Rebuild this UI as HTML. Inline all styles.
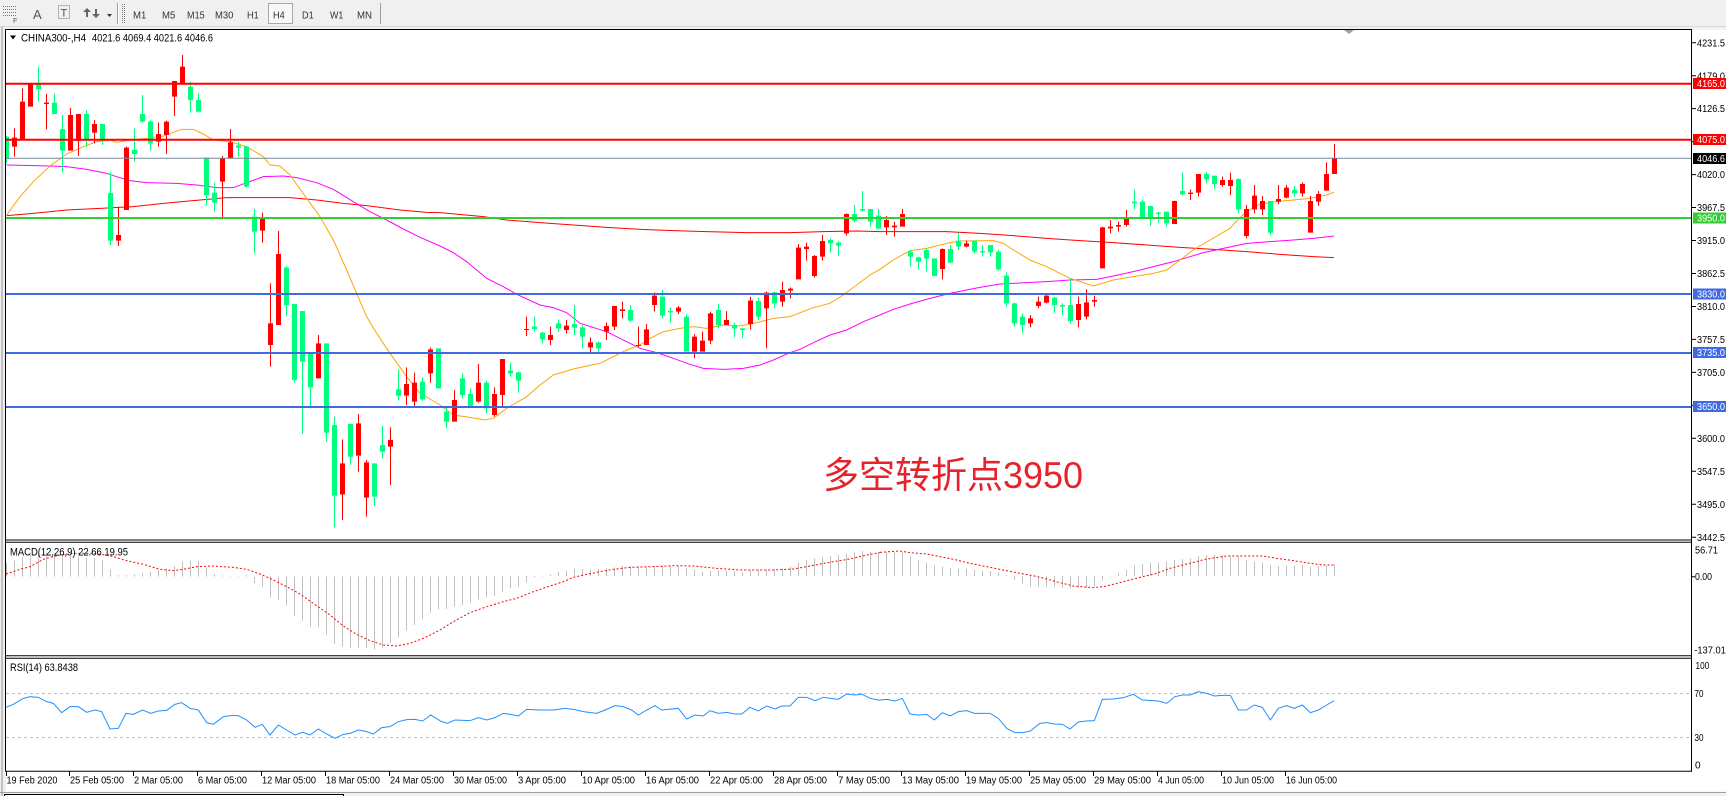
<!DOCTYPE html>
<html><head><meta charset="utf-8"><style>html,body{margin:0;padding:0;background:#fff}svg{display:block}</style></head>
<body>
<svg xmlns="http://www.w3.org/2000/svg" width="1726" height="796" viewBox="0 0 1726 796" font-family="'Liberation Sans', sans-serif">
<defs>
<clipPath id="cm"><rect x="6" y="30" width="1685.5" height="509.5"/></clipPath>
<clipPath id="cd"><rect x="6" y="542.5" width="1685.5" height="113"/></clipPath>
<clipPath id="cr"><rect x="6" y="658.5" width="1685.5" height="112"/></clipPath>
</defs>
<rect x="0" y="0" width="1726" height="796" fill="#f0f0f0"/>
<rect x="6" y="29.5" width="1720" height="762" fill="#fff"/>
<line x1="0" y1="26.5" x2="1726" y2="26.5" stroke="#d8d8d8"/>
<g fill="none" stroke="#777" stroke-dasharray="1,1">
<line x1="3" y1="6.5" x2="16" y2="6.5"/><line x1="3" y1="9.5" x2="16" y2="9.5"/><line x1="3" y1="12.5" x2="16" y2="12.5"/><line x1="3" y1="15.5" x2="16" y2="15.5"/>
<rect x="58.5" y="5.5" width="11" height="13"/>
<line x1="122.5" y1="4" x2="122.5" y2="23"/><line x1="124.5" y1="4" x2="124.5" y2="23"/>
</g>
<text x="13" y="23" font-size="7" fill="#555">F</text>
<text x="33" y="19" font-size="13" fill="#555">A</text>
<text x="60.5" y="16.5" font-size="11" fill="#555">T</text>
<path d="M87,8l4,4h-3v5h-2v-5h-3z M96,18l4,-4h-3v-5h-2v5h-3z" fill="#666"/>
<polygon points="107,14 112,14 109.5,17" fill="#333"/>
<line x1="117.5" y1="3" x2="117.5" y2="24" stroke="#a0a0a0"/><line x1="118.5" y1="3" x2="118.5" y2="24" stroke="#fff"/>
<rect x="268.5" y="3.5" width="24" height="20" fill="#f8f8f8" stroke="#a8a8a8"/>
<g font-size="10" fill="#333">
<text x="133" y="18.5" textLength="13.3" lengthAdjust="spacingAndGlyphs">M1</text>
<text x="162" y="18.5" textLength="13.3" lengthAdjust="spacingAndGlyphs">M5</text>
<text x="187" y="18.5" textLength="17.7" lengthAdjust="spacingAndGlyphs">M15</text>
<text x="215" y="18.5" textLength="18.3" lengthAdjust="spacingAndGlyphs">M30</text>
<text x="247" y="18.5" textLength="11.7" lengthAdjust="spacingAndGlyphs">H1</text>
<text x="273" y="18.5" textLength="11.7" lengthAdjust="spacingAndGlyphs">H4</text>
<text x="302" y="18.5" textLength="11.7" lengthAdjust="spacingAndGlyphs">D1</text>
<text x="330" y="18.5" textLength="13.3" lengthAdjust="spacingAndGlyphs">W1</text>
<text x="357" y="18.5" textLength="15" lengthAdjust="spacingAndGlyphs">MN</text>
</g>
<line x1="380.5" y1="3" x2="380.5" y2="24" stroke="#a0a0a0"/>

<!-- main panel -->
<g clip-path="url(#cm)">
<g fill="none" stroke-width="3">
<polyline transform="translate(0,30) scale(0.333333)" stroke="#ff0000" points="20,557 100,550 200,540 300,535 400,530 490,520 600,510 680,503 800,503 870,503 950,510 1030,520 1100,527 1200,540 1280,547 1320,548"/>
<polyline transform="translate(440,30) scale(0.333333)" stroke="#ff0000" points="0,548 130,560 200,570 300,578 400,585 500,592 600,598 700,602 800,605 920,608 1050,608 1150,605 1250,603 1320,605"/>
<polyline transform="translate(880,30) scale(0.333333)" stroke="#ff0000" points="0,605 200,605 300,610 400,617 500,625 600,632 700,638 800,645 900,652 1000,658 1100,665 1200,673 1300,680 1362,683"/>
<polyline transform="translate(0,30) scale(0.333333)" stroke="#ff00ff" points="20,405 150,408 200,410 260,418 320,430 350,440 390,452 440,458 530,460 590,465 650,473 700,473 740,458 790,440 850,438 890,443 950,458 1000,478 1060,515 1110,545 1160,570 1210,597 1260,622 1320,648"/>
<polyline transform="translate(440,30) scale(0.333333)" stroke="#ff00ff" points="0,648 40,668 80,695 140,745 190,770 230,793 300,825 340,833 380,848 420,880 500,905 560,935 600,955 650,968 700,985 750,1003 790,1015 850,1018 910,1015 960,1005 1000,990 1050,968 1080,958 1120,938 1170,915 1220,900 1270,875 1320,855"/>
<polyline transform="translate(880,30) scale(0.333333)" stroke="#ff00ff" points="0,855 40,838 90,822 150,805 210,790 250,782 300,772 360,762 440,758 500,755 570,750 650,748 700,738 760,725 820,710 880,695 920,683 970,668 1030,655 1100,640 1170,635 1240,630 1300,625 1362,618"/>
<polyline transform="translate(0,30) scale(0.333333)" stroke="#ffa500" points="20,555 60,500 100,455 150,408 200,372 250,350 290,335 330,330 350,337 390,330 440,325 490,318 545,298 580,298 610,312 640,330 690,335 740,350 790,380 810,405 840,408 870,435 920,505 960,560 1000,630 1040,720 1070,790 1100,860 1130,910 1170,970 1220,1040 1260,1090 1290,1107 1320,1125"/>
<polyline transform="translate(440,30) scale(0.333333)" stroke="#ffa500" points="0,1125 40,1155 90,1162 135,1170 160,1165 200,1135 260,1100 300,1065 340,1035 400,1017 440,1008 480,1000 520,980 560,960 600,945 630,925 670,905 720,895 760,890 800,895 850,885 900,888 950,878 1000,865 1050,860 1080,848 1120,833 1170,820 1210,795 1250,765 1290,735 1320,718"/>
<polyline transform="translate(880,30) scale(0.333333)" stroke="#ffa500" points="0,718 40,690 90,662 140,655 200,640 240,633 340,632 370,640 400,660 450,690 500,710 570,745 640,768 700,750 760,740 820,730 860,720 900,690 940,660 990,630 1050,595 1075,568 1100,545 1140,522 1190,515 1240,510 1290,505 1340,495 1362,487"/>
</g>
<g transform="translate(0,30) scale(1,0.333333)">
<path fill="#00ff7f" d="M4,320h5v65h-5zM6,318h1v82h-1zM36,163h5v14h-5zM38,110h1v105h-1zM52,218h5v34h-5zM54,190h1v62h-1zM60,297h5v65h-5zM62,255h1v173h-1zM84,252h5v76h-5zM86,240h1v110h-1zM100,282h5v48h-5zM102,282h1v63h-1zM108,489h5v143h-5zM110,425h1v220h-1zM132,360h5v12h-5zM134,295h1v100h-1zM140,252h5v23h-5zM142,195h1v83h-1zM148,275h5v65h-5zM150,270h1v92h-1zM188,170h5v40h-5zM190,155h1v93h-1zM196,210h5v35h-5zM198,190h1v58h-1zM204,383h5v112h-5zM206,383h1v142h-1zM212,488h5v30h-5zM214,458h1v87h-1zM236,346h5v7h-5zM238,335h1v45h-1zM244,350h5v120h-5zM246,348h1v124h-1zM252,560h5v45h-5zM254,537h1v133h-1zM284,713h5v112h-5zM286,708h1v150h-1zM292,822h5v228h-5zM294,822h1v236h-1zM300,843h5v152h-5zM302,843h1v369h-1zM308,968h5v104h-5zM310,968h1v160h-1zM324,940h5v268h-5zM326,940h1v295h-1zM332,1185h5v212h-5zM334,1160h1v332h-1zM348,1182h5v98h-5zM350,1180h1v125h-1zM372,1300h5v100h-5zM374,1300h1v128h-1zM380,1245h5v20h-5zM382,1188h1v97h-1zM396,1078h5v19h-5zM398,1018h1v94h-1zM420,1055h5v53h-5zM422,1042h1v71h-1zM436,955h5v120h-5zM438,955h1v120h-1zM444,1145h5v30h-5zM446,1130h1v65h-1zM460,1045h5v50h-5zM462,1030h1v75h-1zM468,1092h5v36h-5zM470,1075h1v55h-1zM484,1058h5v77h-5zM486,1052h1v98h-1zM508,1022h5v8h-5zM510,998h1v42h-1zM516,1027h5v25h-5zM518,1025h1v63h-1zM532,890h5v7h-5zM534,860h1v45h-1zM540,908h5v20h-5zM542,905h1v35h-1zM556,880h5v15h-5zM558,868h1v37h-1zM572,882h5v11h-5zM574,825h1v90h-1zM580,892h5v28h-5zM582,885h1v70h-1zM596,937h5v18h-5zM598,935h1v30h-1zM628,840h5v32h-5zM630,825h1v50h-1zM660,800h5v57h-5zM662,780h1v85h-1zM668,843h5v4h-5zM670,833h1v45h-1zM684,860h5v105h-5zM686,852h1v113h-1zM716,840h5v45h-5zM718,822h1v73h-1zM732,885h5v10h-5zM734,878h1v44h-1zM740,895h5v5h-5zM742,893h1v32h-1zM756,813h5v47h-5zM758,803h1v67h-1zM772,787h5v33h-5zM774,785h1v50h-1zM828,630h5v10h-5zM830,625h1v43h-1zM836,638h5v9h-5zM838,632h1v46h-1zM852,552h5v20h-5zM854,525h1v52h-1zM860,537h5v5h-5zM862,483h1v62h-1zM868,537h5v38h-5zM870,537h1v53h-1zM876,557h5v39h-5zM878,537h1v61h-1zM908,665h5v15h-5zM910,660h1v50h-1zM916,682h5v13h-5zM918,680h1v38h-1zM924,660h5v26h-5zM926,655h1v70h-1zM932,685h5v53h-5zM934,685h1v53h-1zM948,657h5v41h-5zM950,645h1v55h-1zM956,632h5v18h-5zM958,608h1v52h-1zM972,632h5v33h-5zM974,632h1v38h-1zM980,663h5v4h-5zM982,645h1v35h-1zM988,645h5v22h-5zM990,645h1v35h-1zM996,665h5v53h-5zM998,660h1v62h-1zM1004,737h5v83h-5zM1006,727h1v103h-1zM1012,820h5v60h-5zM1014,818h1v72h-1zM1020,860h5v25h-5zM1022,850h1v60h-1zM1052,803h5v22h-5zM1054,800h1v48h-1zM1060,825h5v5h-5zM1062,820h1v35h-1zM1068,825h5v48h-5zM1070,745h1v135h-1zM1132,515h5v5h-5zM1134,478h1v60h-1zM1140,515h5v50h-5zM1142,508h1v60h-1zM1148,528h5v34h-5zM1150,527h1v61h-1zM1156,548h5v4h-5zM1158,545h1v33h-1zM1164,545h5v35h-5zM1166,545h1v45h-1zM1180,483h5v10h-5zM1182,428h1v69h-1zM1204,432h5v16h-5zM1206,425h1v35h-1zM1212,437h5v25h-5zM1214,437h1v41h-1zM1236,447h5v91h-5zM1238,445h1v103h-1zM1268,513h5v95h-5zM1270,513h1v102h-1zM1292,480h5v10h-5zM1294,468h1v32h-1z"/>
<path fill="#ff0000" d="M12,323h5v27h-5zM14,295h1v85h-1zM20,215h5v114h-5zM22,175h1v155h-1zM28,160h5v70h-5zM30,160h1v70h-1zM44,218h5v4h-5zM46,192h1v106h-1zM68,255h5v107h-5zM70,234h1v128h-1zM76,252h5v81h-5zM78,252h1v126h-1zM92,282h5v26h-5zM94,270h1v70h-1zM116,615h5v17h-5zM118,530h1v118h-1zM124,353h5v187h-5zM126,350h1v190h-1zM156,312h5v23h-5zM158,278h1v72h-1zM164,275h5v40h-5zM166,272h1v100h-1zM172,153h5v47h-5zM174,153h1v105h-1zM180,110h5v50h-5zM182,75h1v85h-1zM220,385h5v70h-5zM222,378h1v190h-1zM228,337h5v48h-5zM230,297h1v88h-1zM260,565h5v37h-5zM262,548h1v90h-1zM268,880h5v65h-5zM270,760h1v250h-1zM276,672h5v213h-5zM278,603h1v282h-1zM316,940h5v105h-5zM318,915h1v130h-1zM340,1300h5v93h-5zM342,1228h1v242h-1zM356,1180h5v97h-5zM358,1152h1v173h-1zM364,1297h5v106h-5zM366,1290h1v170h-1zM388,1230h5v20h-5zM390,1192h1v173h-1zM404,1062h5v35h-5zM406,1012h1v113h-1zM412,1058h5v57h-5zM414,1028h1v100h-1zM428,958h5v72h-5zM430,953h1v105h-1zM452,1110h5v65h-5zM454,1080h1v95h-1zM476,1058h5v57h-5zM478,1002h1v116h-1zM492,1092h5v63h-5zM494,1072h1v88h-1zM500,987h5v108h-5zM502,987h1v141h-1zM524,897h5v3h-5zM526,860h1v58h-1zM548,915h5v15h-5zM550,890h1v55h-1zM564,887h5v13h-5zM566,870h1v40h-1zM588,937h5v15h-5zM590,922h1v50h-1zM604,888h5v17h-5zM606,878h1v52h-1zM612,828h5v62h-5zM614,828h1v72h-1zM620,838h5v5h-5zM622,815h1v50h-1zM636,945h5v3h-5zM638,890h1v60h-1zM644,898h5v47h-5zM646,882h1v63h-1zM652,797h5v28h-5zM654,787h1v58h-1zM676,833h5v12h-5zM678,828h1v24h-1zM692,920h5v45h-5zM694,912h1v73h-1zM700,932h5v33h-5zM702,905h1v60h-1zM708,850h5v82h-5zM710,845h1v97h-1zM724,870h5v15h-5zM726,843h1v42h-1zM748,812h5v70h-5zM750,800h1v98h-1zM764,788h5v47h-5zM766,785h1v170h-1zM780,780h5v35h-5zM782,755h1v75h-1zM788,776h5v6h-5zM790,772h1v33h-1zM796,653h5v95h-5zM798,642h1v106h-1zM804,650h5v7h-5zM806,638h1v54h-1zM812,678h5v60h-5zM814,675h1v67h-1zM820,633h5v47h-5zM822,615h1v77h-1zM844,552h5v58h-5zM846,550h1v67h-1zM884,570h5v22h-5zM886,558h1v57h-1zM892,587h5v5h-5zM894,575h1v45h-1zM900,552h5v38h-5zM902,537h1v53h-1zM940,657h5v60h-5zM942,655h1v93h-1zM964,640h5v10h-5zM966,632h1v20h-1zM1028,865h5v15h-5zM1030,855h1v37h-1zM1036,815h5v13h-5zM1038,800h1v35h-1zM1044,797h5v21h-5zM1046,795h1v25h-1zM1076,822h5v48h-5zM1078,800h1v92h-1zM1084,817h5v43h-5zM1086,778h1v90h-1zM1092,810h5v5h-5zM1094,797h1v33h-1zM1100,592h5v123h-5zM1102,590h1v125h-1zM1108,590h5v5h-5zM1110,570h1v40h-1zM1116,585h5v5h-5zM1118,575h1v30h-1zM1124,565h5v20h-5zM1126,540h1v50h-1zM1172,513h5v69h-5zM1174,512h1v70h-1zM1188,488h5v4h-5zM1190,478h1v32h-1zM1196,432h5v56h-5zM1198,432h1v68h-1zM1220,450h5v15h-5zM1222,440h1v30h-1zM1228,450h5v18h-5zM1230,428h1v67h-1zM1244,537h5v81h-5zM1246,525h1v100h-1zM1252,497h5v41h-5zM1254,465h1v85h-1zM1260,513h5v25h-5zM1262,498h1v57h-1zM1276,507h5v8h-5zM1278,465h1v57h-1zM1284,473h5v30h-5zM1286,465h1v40h-1zM1300,462h5v28h-5zM1302,457h1v43h-1zM1308,513h5v95h-5zM1310,498h1v110h-1zM1316,492h5v23h-5zM1318,483h1v45h-1zM1324,432h5v50h-5zM1326,397h1v85h-1zM1332,384h5v48h-5zM1334,342h1v90h-1z"/>
</g>
<line x1="6" y1="158.3" x2="1692" y2="158.3" stroke="#778899" stroke-width="1"/>
<g stroke-width="2">
<line x1="6" y1="83.7" x2="1692" y2="83.7" stroke="#ff0000"/>
<line x1="6" y1="139.7" x2="1692" y2="139.7" stroke="#ff0000"/>
<line x1="6" y1="218" x2="1692" y2="218" stroke="#32cd32"/>
<line x1="6" y1="294" x2="1692" y2="294" stroke="#4169e1"/>
<line x1="6" y1="353" x2="1692" y2="353" stroke="#4169e1"/>
<line x1="6" y1="407" x2="1692" y2="407" stroke="#4169e1"/>
</g>
<text x="823" y="488" font-size="37" fill="#e6232c" font-family="'Liberation Sans','Noto Sans CJK SC',sans-serif" textLength="260" lengthAdjust="spacingAndGlyphs">多空转折点3950</text>
</g>
<polygon points="10,35.5 16,35.5 13,39.5" fill="#000"/>
<text x="21" y="41.5" font-size="11" fill="#000" textLength="65" lengthAdjust="spacingAndGlyphs">CHINA300-,H4</text>
<text x="92" y="41.5" font-size="11" fill="#000" textLength="121" lengthAdjust="spacingAndGlyphs">4021.6 4069.4 4021.6 4046.6</text>
<polygon points="1344,30 1354,30 1349,34" fill="#a0a0a0"/>

<!-- MACD -->
<g clip-path="url(#cd)">
<path transform="translate(0,520) scale(1,0.333333)" fill="none" stroke="#c0c0c0" stroke-width="1" d="M6.5,128V170M14.5,122V170M22.5,112V170M30.5,105V170M38.5,100V170M46.5,98V170M54.5,100V170M62.5,103V170M70.5,108V170M78.5,110V170M86.5,112V170M94.5,115V170M102.5,120V170M110.5,148V170M118.5,165V170M126.5,165V170M134.5,163V170M142.5,160V170M150.5,155V170M158.5,150V170M166.5,145V170M174.5,138V170M182.5,125V170M190.5,122V170M198.5,123V170M206.5,143V170M214.5,162V170M222.5,166V170M230.5,168V170M238.5,168V170M246.5,165V170M254.5,170V190M262.5,170V200M270.5,170V233M278.5,170V240M286.5,170V257M294.5,170V288M302.5,170V302M310.5,170V320M318.5,170V322M326.5,170V343M334.5,170V372M342.5,170V380M350.5,170V385M358.5,170V383M366.5,170V384M374.5,170V388M382.5,170V383M390.5,170V370M398.5,170V352M406.5,170V332M414.5,170V315M422.5,170V298M430.5,170V278M438.5,170V268"/>
<path transform="translate(0,540) scale(1,0.333333)" fill="none" stroke="#c0c0c0" stroke-width="1" d="M446.5,108V207M454.5,108V200M462.5,108V195M470.5,108V188M478.5,108V178M486.5,108V172M494.5,108V168M502.5,108V155M510.5,108V145M518.5,108V140M526.5,108V127M534.5,108V112M542.5,108V110M550.5,103V108M558.5,95V108M566.5,92V108M574.5,87V108M582.5,87V108M590.5,90V108M598.5,87V108M606.5,85V108M614.5,82V108M622.5,78V108M630.5,78V108M638.5,80V108M646.5,82V108M654.5,80V108M662.5,78V108M670.5,78V108M678.5,78V108M686.5,85V108M694.5,90V108M702.5,95V108M710.5,92V108M718.5,90V108M726.5,92V108M734.5,93V108M742.5,97V108M750.5,92V108M758.5,90V108M766.5,90V108M774.5,88V108M782.5,85V108M790.5,80V108M798.5,68V108M806.5,60V108M814.5,55V108M822.5,50V108M830.5,48V108M838.5,45V108M846.5,40V108M854.5,37V108M862.5,33V108M870.5,35V108M878.5,37V108M886.5,36V108M894.5,37V108M902.5,37V108M910.5,50V108M918.5,60V108M926.5,68V108M934.5,77V108M942.5,80V108M950.5,85V108M958.5,87V108M966.5,87V108M974.5,90V108M982.5,92V108M990.5,93V108M998.5,97V108M1006.5,105V108M1014.5,108V120M1022.5,108V130M1030.5,108V140M1038.5,108V140M1046.5,108V140M1054.5,108V142M1062.5,108V143M1070.5,108V145M1078.5,108V145M1086.5,108V143M1094.5,108V140M1102.5,108V122M1110.5,108V110M1118.5,98V108M1126.5,90V108M1134.5,77V108M1142.5,72V108M1150.5,68V108M1158.5,67V108M1166.5,65V108M1174.5,60V108M1182.5,57V108M1190.5,55V108M1198.5,48V108M1206.5,45V108M1214.5,45V108M1222.5,45V108M1230.5,47V108M1238.5,47V108M1246.5,60V108M1254.5,65V108M1262.5,67V108M1270.5,75V108M1278.5,78V108M1286.5,78V108M1294.5,77V108M1302.5,75V108M1310.5,80V108M1318.5,77V108M1326.5,77V108M1334.5,73V108"/>
<g fill="none" stroke="#ff0000" stroke-width="3" stroke-dasharray="6,6">
<polyline transform="translate(0,520) scale(0.333333)" points="18,162 60,148 90,140 130,118 170,107 220,100 280,100 330,107 380,122 430,133 480,148 520,152 550,148 590,140 640,138 700,142 740,148 780,162 820,180 860,200 900,222 940,250 990,285 1030,318 1070,343 1110,362 1150,375 1190,378 1230,370 1270,355 1320,330"/>
<polyline transform="translate(440,540) scale(0.333333)" points="0,270 40,245 90,218 140,200 190,185 230,175 280,155 330,138 370,125 400,112 440,103 480,95 520,88 570,82 640,80 700,77 760,78 830,85 900,90 1000,90 1060,87 1100,80 1140,72 1180,65 1230,57 1280,45 1320,38"/>
<polyline transform="translate(880,540) scale(0.333333)" points="0,37 60,33 90,38 140,42 180,50 230,60 270,70 320,80 370,90 420,100 460,107 500,117 540,128 580,138 640,143 680,138 730,125 780,112 830,100 870,85 920,72 980,57 1040,48 1090,48 1150,48 1190,55 1240,62 1290,70 1330,75 1362,75"/>
</g>
</g>
<text x="10" y="555.5" font-size="11" fill="#000" textLength="118" lengthAdjust="spacingAndGlyphs">MACD(12,26,9) 22.66 19.95</text>

<!-- RSI -->
<g clip-path="url(#cr)">
<g stroke="#c0c0c0" stroke-dasharray="3,3" stroke-width="1">
<line x1="6" y1="693.5" x2="1692" y2="693.5"/>
<line x1="6" y1="737.5" x2="1692" y2="737.5"/>
</g>
<g fill="none" stroke="#1e90ff" stroke-width="3">
<polyline transform="translate(0,650) scale(0.333333)" points="18,172 40,163 70,145 90,140 115,142 140,155 160,160 185,188 210,170 235,170 260,187 285,180 305,185 330,237 355,235 378,190 400,193 428,180 452,190 475,183 500,181 525,163 545,158 570,175 595,180 620,218 640,223 670,200 690,197 715,197 740,210 765,232 787,223 810,255 835,225 860,240 885,255 908,247 930,255 955,237 980,252 1005,265 1030,253 1050,250 1075,240 1100,245 1120,252 1145,233 1170,230 1195,215 1220,209 1245,208 1268,213 1292,195 1320,212"/>
<polyline transform="translate(440,540) scale(0.333333)" points="0,543 22,550 45,540 90,542 115,533 140,540 165,533 190,520 210,523 235,528 260,508 300,510 340,510 375,505 400,508 430,515 470,520 495,510 525,497 550,500 575,510 595,525 620,510 645,497 665,510 715,505 740,537 765,525 790,528 810,512 835,520 860,517 885,522 905,522 930,502 955,513 980,498 1005,507 1025,498 1050,498 1075,472 1100,472 1125,482 1150,472 1195,478 1220,462 1245,465 1265,462 1290,475 1320,481"/>
<polyline transform="translate(880,540) scale(0.333333)" points="0,480 20,478 45,483 67,475 90,522 115,525 140,523 163,540 187,518 211,528 235,515 260,512 283,520 330,520 355,535 380,565 405,578 428,578 451,573 480,550 500,548 523,552 547,553 570,567 595,546 619,543 643,542 667,478 700,477 730,473 760,463 787,480 835,483 860,490 885,470 907,465 931,465 955,455 980,460 1003,468 1027,466 1051,466 1075,510 1099,510 1123,495 1147,502 1171,540 1195,505 1219,497 1243,505 1267,495 1291,518 1315,510 1340,495 1362,482"/>
</g>
</g>
<text x="10" y="671" font-size="11" fill="#000" textLength="68" lengthAdjust="spacingAndGlyphs">RSI(14) 63.8438</text>

<!-- frames -->
<g fill="none" stroke="#000" stroke-width="1">
<line x1="5.5" y1="29.5" x2="1692" y2="29.5"/>
<line x1="5.5" y1="29.5" x2="5.5" y2="771.5"/>
<line x1="1691.5" y1="29.5" x2="1691.5" y2="771.5"/>
<line x1="5.5" y1="540" x2="1692" y2="540"/>
<line x1="5.5" y1="542.3" x2="1692" y2="542.3"/>
<line x1="5.5" y1="655.8" x2="1692" y2="655.8"/>
<line x1="5.5" y1="658.2" x2="1692" y2="658.2"/>
<line x1="5.5" y1="771.2" x2="1692" y2="771.2"/>
</g>
<line x1="2" y1="27" x2="2" y2="796" stroke="#909090"/>
<line x1="0" y1="792.5" x2="1726" y2="792.5" stroke="#a0a0a0"/>
<rect x="4.5" y="794.5" width="339" height="4" fill="#fff" stroke="#000"/>

<!-- price axis -->
<g stroke="#000" stroke-width="1">
<path d="M1692,42.7h4M1692,75.7h4M1692,108.6h4M1692,141.6h4M1692,174.6h4M1692,207.5h4M1692,240.5h4M1692,273.5h4M1692,306.5h4M1692,339.4h4M1692,372.4h4M1692,405.4h4M1692,438.3h4M1692,471.3h4M1692,504.3h4M1692,537.3h4M1692,576.7h3"/>
</g>
<g font-size="10" fill="#000">
<text x="1697" y="46.3" textLength="28" lengthAdjust="spacingAndGlyphs">4231.5</text>
<text x="1697" y="79.3" textLength="28" lengthAdjust="spacingAndGlyphs">4179.0</text>
<text x="1697" y="112.2" textLength="28" lengthAdjust="spacingAndGlyphs">4126.5</text>
<text x="1697" y="178.2" textLength="28" lengthAdjust="spacingAndGlyphs">4020.0</text>
<text x="1697" y="211.1" textLength="28" lengthAdjust="spacingAndGlyphs">3967.5</text>
<text x="1697" y="244.1" textLength="28" lengthAdjust="spacingAndGlyphs">3915.0</text>
<text x="1697" y="277.1" textLength="28" lengthAdjust="spacingAndGlyphs">3862.5</text>
<text x="1697" y="310.1" textLength="28" lengthAdjust="spacingAndGlyphs">3810.0</text>
<text x="1697" y="343" textLength="28" lengthAdjust="spacingAndGlyphs">3757.5</text>
<text x="1697" y="376" textLength="28" lengthAdjust="spacingAndGlyphs">3705.0</text>
<text x="1697" y="441.9" textLength="28" lengthAdjust="spacingAndGlyphs">3600.0</text>
<text x="1697" y="474.9" textLength="28" lengthAdjust="spacingAndGlyphs">3547.5</text>
<text x="1697" y="507.9" textLength="28" lengthAdjust="spacingAndGlyphs">3495.0</text>
<text x="1697" y="540.9" textLength="28" lengthAdjust="spacingAndGlyphs">3442.5</text>
<text x="1695" y="553.5" textLength="23" lengthAdjust="spacingAndGlyphs">56.71</text>
<text x="1695" y="580.2" textLength="17" lengthAdjust="spacingAndGlyphs">0.00</text>
<text x="1694.3" y="653.3" textLength="31.5" lengthAdjust="spacingAndGlyphs">-137.01</text>
<text x="1695.5" y="669" textLength="13.7" lengthAdjust="spacingAndGlyphs">100</text>
<text x="1694.5" y="697.2" textLength="9" lengthAdjust="spacingAndGlyphs">70</text>
<text x="1694.5" y="741.2" textLength="9" lengthAdjust="spacingAndGlyphs">30</text>
<text x="1695" y="768.3">0</text>
</g>
<g>
<rect x="1693" y="78" width="33" height="11" fill="#ff0000"/>
<rect x="1693" y="134" width="33" height="11" fill="#ff0000"/>
<rect x="1693" y="153" width="33" height="11" fill="#000"/>
<rect x="1693" y="212.5" width="33" height="11" fill="#32cd32"/>
<rect x="1693" y="288.5" width="33" height="11" fill="#4169e1"/>
<rect x="1693" y="347" width="33" height="11" fill="#4169e1"/>
<rect x="1693" y="401" width="33" height="11" fill="#4169e1"/>
</g>
<g font-size="10" fill="#fff">
<text x="1697" y="87.1" textLength="28" lengthAdjust="spacingAndGlyphs">4165.0</text>
<text x="1697" y="143.1" textLength="28" lengthAdjust="spacingAndGlyphs">4075.0</text>
<text x="1697" y="162.1" textLength="28" lengthAdjust="spacingAndGlyphs">4046.6</text>
<text x="1697" y="221.6" textLength="28" lengthAdjust="spacingAndGlyphs">3950.0</text>
<text x="1697" y="297.6" textLength="28" lengthAdjust="spacingAndGlyphs">3830.0</text>
<text x="1697" y="356.1" textLength="28" lengthAdjust="spacingAndGlyphs">3735.0</text>
<text x="1697" y="410.1" textLength="28" lengthAdjust="spacingAndGlyphs">3650.0</text>
</g>

<!-- time axis -->
<path stroke="#000" stroke-width="1" d="M6.5,771v5M69.5,771v5M133.5,771v5M197.5,771v5M261.5,771v5M325.5,771v5M389.5,771v5M453.5,771v5M517.5,771v5M581.5,771v5M645.5,771v5M709.5,771v5M773.5,771v5M837.5,771v5M901.5,771v5M965.5,771v5M1029.5,771v5M1093.5,771v5M1157.5,771v5M1221.5,771v5M1285.5,771v5"/>
<g font-size="10" fill="#000">
<text x="6.5" y="783.5" textLength="51" lengthAdjust="spacingAndGlyphs">19 Feb 2020</text>
<text x="70" y="783.5" textLength="54" lengthAdjust="spacingAndGlyphs">25 Feb 05:00</text>
<text x="134" y="783.5" textLength="49" lengthAdjust="spacingAndGlyphs">2 Mar 05:00</text>
<text x="198" y="783.5" textLength="49" lengthAdjust="spacingAndGlyphs">6 Mar 05:00</text>
<text x="262" y="783.5" textLength="54" lengthAdjust="spacingAndGlyphs">12 Mar 05:00</text>
<text x="326" y="783.5" textLength="54" lengthAdjust="spacingAndGlyphs">18 Mar 05:00</text>
<text x="390" y="783.5" textLength="54" lengthAdjust="spacingAndGlyphs">24 Mar 05:00</text>
<text x="454" y="783.5" textLength="53" lengthAdjust="spacingAndGlyphs">30 Mar 05:00</text>
<text x="518" y="783.5" textLength="48" lengthAdjust="spacingAndGlyphs">3 Apr 05:00</text>
<text x="582" y="783.5" textLength="53" lengthAdjust="spacingAndGlyphs">10 Apr 05:00</text>
<text x="646" y="783.5" textLength="53" lengthAdjust="spacingAndGlyphs">16 Apr 05:00</text>
<text x="710" y="783.5" textLength="53" lengthAdjust="spacingAndGlyphs">22 Apr 05:00</text>
<text x="774" y="783.5" textLength="53" lengthAdjust="spacingAndGlyphs">28 Apr 05:00</text>
<text x="838" y="783.5" textLength="52" lengthAdjust="spacingAndGlyphs">7 May 05:00</text>
<text x="902" y="783.5" textLength="57" lengthAdjust="spacingAndGlyphs">13 May 05:00</text>
<text x="966" y="783.5" textLength="56" lengthAdjust="spacingAndGlyphs">19 May 05:00</text>
<text x="1030" y="783.5" textLength="56" lengthAdjust="spacingAndGlyphs">25 May 05:00</text>
<text x="1094" y="783.5" textLength="57" lengthAdjust="spacingAndGlyphs">29 May 05:00</text>
<text x="1158" y="783.5" textLength="46" lengthAdjust="spacingAndGlyphs">4 Jun 05:00</text>
<text x="1222" y="783.5" textLength="52" lengthAdjust="spacingAndGlyphs">10 Jun 05:00</text>
<text x="1286" y="783.5" textLength="51" lengthAdjust="spacingAndGlyphs">16 Jun 05:00</text>
</g>
</svg>
</body></html>
